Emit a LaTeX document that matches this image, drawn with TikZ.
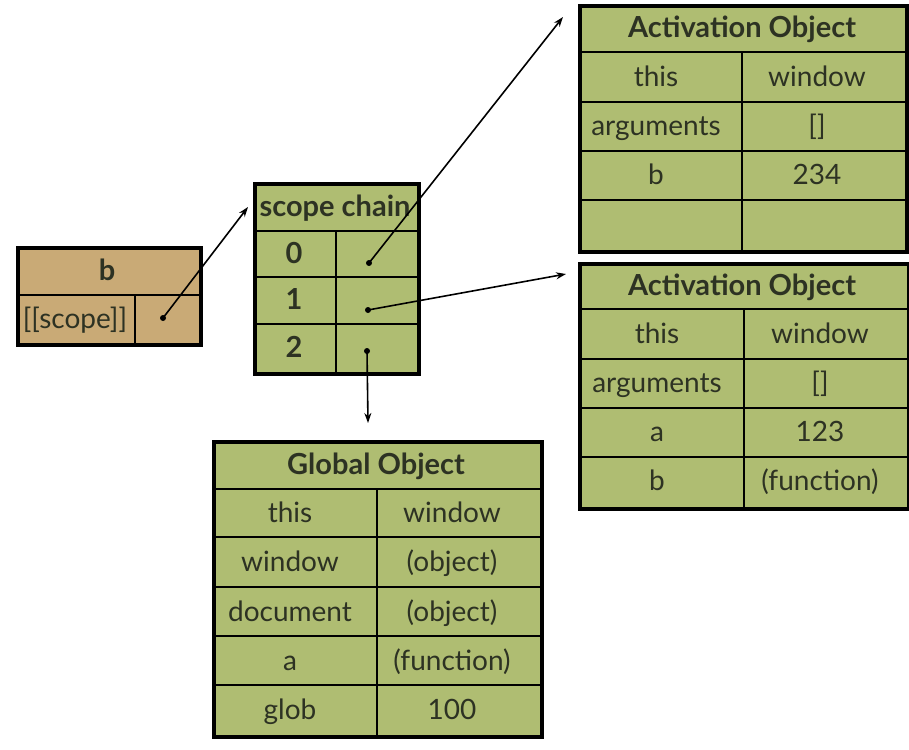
\documentclass[tikz,border=0pt]{standalone}
\usepackage{fontspec}
\setmainfont{Lato}
\usetikzlibrary{arrows.meta}
\definecolor{objgreen}{RGB}{175,189,114}
\definecolor{scopetan}{RGB}{201,170,118}
\definecolor{ink}{RGB}{45,50,35}
\tikzset{
objbox/.style={draw=black, line width=4pt, fill=objgreen, anchor=north west, inner sep=0pt},
sep/.style={line width=2.5pt},
cell/.style={text=ink, inner sep=0pt, text height=23pt, text depth=4pt,
  font=\fontsize{28}{30}\selectfont},
head/.style={cell, font=\fontsize{29}{31}\selectfont\bfseries},
ptr/.style={circle, fill=black, inner sep=0pt, minimum size=6pt},
link/.style={-{Stealth[length=10pt,width=7pt]}, line width=1.6pt}
}

\begin{document}
\begin{tikzpicture}[x=1pt, y=-1pt]
\useasboundingbox (0,0) rectangle (909,749);

% function b
\node[objbox, fill=scopetan, minimum width=183pt, minimum height=97pt] (fb) at (16,246) {};
\draw[sep] (16,295) -- (199,295);
\draw[sep] (135,295) -- (135,343);
\node[head] (fbname) at (107,271) {b};
\node[cell] (fbscope) at (75,319) {[[scope]]};
\node[ptr] (bptr) at (163,318) {};

% scope chain
\node[objbox, minimum width=164pt, minimum height=190pt] (sc) at (253,182) {};
\foreach \y in {231,277,324}
  \draw[sep] (253,\y) -- (417,\y);
\draw[sep] (336,231) -- (336,372);
\node[head] (schead) at (335,207) {scope chain};
\foreach \n/\y in {0/254,1/300,2/348}
  \node[head] (scidx\n) at (294,\y) {\n};
\node[ptr] (sc0) at (369,263) {};
\node[ptr] (sc1) at (368,310) {};
\node[ptr] (sc2) at (367,351) {};

% activation object of b
\node[objbox, minimum width=327pt, minimum height=246pt] (aob) at (578,4) {};
\foreach \y in {52,102,151,200}
  \draw[sep] (578,\y) -- (905,\y);
\draw[sep] (742,52) -- (742,250);
\node[head] (aobhead) at (742,28) {Activation Object};
\foreach \k/\v [count=\i] in {this/window, arguments/{[]}, b/234}{
  \node[cell] (aobk\i) at (656,28+49*\i) {\k};
  \node[cell] (aobv\i) at (817,28+49*\i) {\v};
}

% activation object of a
\node[objbox, minimum width=329pt, minimum height=245pt] (aoa) at (578,262) {};
\foreach \y in {309,359,408,457}
  \draw[sep] (578,\y) -- (907,\y);
\draw[sep] (744,309) -- (744,507);
\node[head] (aoahead) at (742,286) {Activation Object};
\foreach \k/\v [count=\i] in {this/window, arguments/{[]}, a/123, b/(function)}{
  \node[cell] (aoak\i) at (657,285+49*\i) {\k};
  \node[cell] (aoav\i) at (820,285+49*\i) {\v};
}

% global object
\node[objbox, minimum width=328pt, minimum height=295pt] (glob) at (212,440) {};
\foreach \y in {489,537,587,636,685}
  \draw[sep] (212,\y) -- (540,\y);
\draw[sep] (377,489) -- (377,735);
\node[head] (globhead) at (376,465) {Global Object};
\foreach \k/\v [count=\i] in {this/window, window/(object), document/(object), a/(function), glob/100}{
  \node[cell] (globk\i) at (290,464+49.2*\i) {\k};
  \node[cell] (globv\i) at (452,464+49.2*\i) {\v};
}

% pointers
\coordinate (scin) at (248,207);
\coordinate (aobin) at (563,17);
\coordinate (aoain) at (566,274);
\coordinate (globin) at (368,423);
\draw[link] (bptr.center) -- (scin);
\draw[link] (sc0.center) -- (aobin);
\draw[link] (sc1.center) -- (aoain);
\draw[link] (sc2.center) -- (globin);

\end{tikzpicture}
\end{document}
